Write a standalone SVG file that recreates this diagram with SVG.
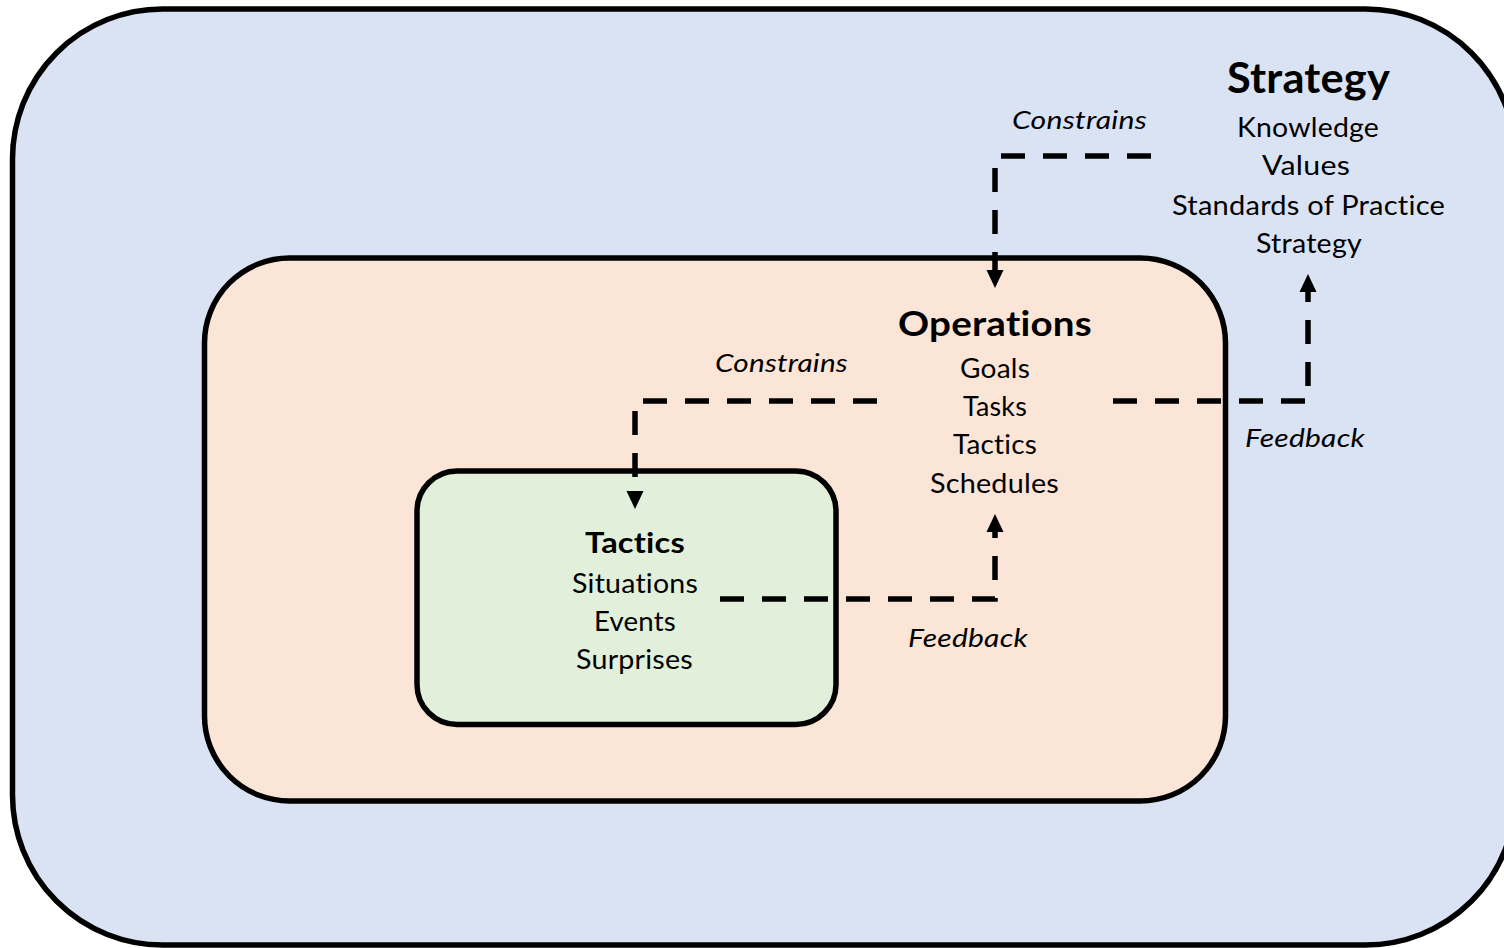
<svg xmlns="http://www.w3.org/2000/svg" width="1504" height="948" viewBox="0 0 1504 948">
  <style>
    text { font-variant-ligatures: none; font-feature-settings: "liga" 0, "clig" 0, "calt" 0, "dlig" 0; letter-spacing: 0.2px; }
    .box { stroke: #000; stroke-width: 5.5; }
    .title { font-family: Lato, "Open Sans", "Liberation Sans", sans-serif; font-weight: bold; fill: #000; text-anchor: middle; }
    .item { font-family: Lato, "Open Sans", "Liberation Sans", sans-serif; font-size: 26px; fill: #000; text-anchor: middle; }
    .label { font-family: Lato, "Open Sans", "Liberation Sans", sans-serif; font-style: italic; font-size: 26px; fill: #000; text-anchor: middle; }
    .flow { fill: none; stroke: #000; stroke-width: 5.5; stroke-dasharray: 24 18; }
  </style>
  <defs>
    <marker id="arrow" markerUnits="userSpaceOnUse" markerWidth="18" markerHeight="18" viewBox="0 0 18 18" refX="0" refY="9" orient="auto">
      <path d="M0,0.5 L18,9 L0,17.5 z" fill="#000"/>
    </marker>
  </defs>

  <rect width="1504" height="948" fill="#ffffff"/>

  <!-- Strategy level -->
  <g id="strategy">
    <rect class="box" x="12.5" y="9" width="1503" height="936" rx="150" ry="150" fill="#dae3f3"/>
    <text class="title" x="1308.5" y="93" font-size="42" textLength="163" lengthAdjust="spacingAndGlyphs">Strategy</text>
    <text class="item" x="1308" y="137" textLength="142" lengthAdjust="spacingAndGlyphs">Knowledge</text>
    <text class="item" x="1306" y="175" textLength="88" lengthAdjust="spacingAndGlyphs">Values</text>
    <text class="item" x="1308.5" y="215" textLength="273" lengthAdjust="spacingAndGlyphs">Standards of Practice</text>
    <text class="item" x="1309" y="253" textLength="106" lengthAdjust="spacingAndGlyphs">Strategy</text>
  </g>

  <!-- Operations level -->
  <g id="operations">
    <rect class="box" x="204.5" y="258" width="1021" height="543" rx="85" ry="85" fill="#fbe5d6"/>
    <text class="title" x="995" y="336" font-size="35" textLength="194" lengthAdjust="spacingAndGlyphs">Operations</text>
    <text class="item" x="995" y="378" textLength="70" lengthAdjust="spacingAndGlyphs">Goals</text>
    <text class="item" x="995" y="416" textLength="64" lengthAdjust="spacingAndGlyphs">Tasks</text>
    <text class="item" x="995" y="454" textLength="84" lengthAdjust="spacingAndGlyphs">Tactics</text>
    <text class="item" x="994.5" y="493" textLength="129" lengthAdjust="spacingAndGlyphs">Schedules</text>
  </g>

  <!-- Tactics level -->
  <g id="tactics">
    <rect class="box" x="417" y="471" width="419" height="253.5" rx="40" ry="40" fill="#e2efda"/>
    <text class="title" x="635" y="553" font-size="29" textLength="100" lengthAdjust="spacingAndGlyphs">Tactics</text>
    <text class="item" x="635" y="593" textLength="126" lengthAdjust="spacingAndGlyphs">Situations</text>
    <text class="item" x="635" y="631" textLength="82" lengthAdjust="spacingAndGlyphs">Events</text>
    <text class="item" x="634.5" y="669" textLength="117" lengthAdjust="spacingAndGlyphs">Surprises</text>
  </g>

  <!-- Constrain / feedback flows -->
  <g id="connectors">
    <path class="flow" d="M1151,156 H995 V270" marker-end="url(#arrow)"/>
    <path class="flow" d="M877,401 H635 V491" marker-end="url(#arrow)"/>
    <path class="flow" d="M720,599 H995 V532" marker-end="url(#arrow)"/>
    <path class="flow" d="M1113,401 H1308 V292" marker-end="url(#arrow)"/>
    <text class="label" x="1079.5" y="129" textLength="135" lengthAdjust="spacingAndGlyphs">Constrains</text>
    <text class="label" x="781.5" y="372" textLength="133" lengthAdjust="spacingAndGlyphs">Constrains</text>
    <text class="label" x="968" y="647" textLength="120" lengthAdjust="spacingAndGlyphs">Feedback</text>
    <text class="label" x="1305" y="447" textLength="120" lengthAdjust="spacingAndGlyphs">Feedback</text>
  </g>
</svg>
